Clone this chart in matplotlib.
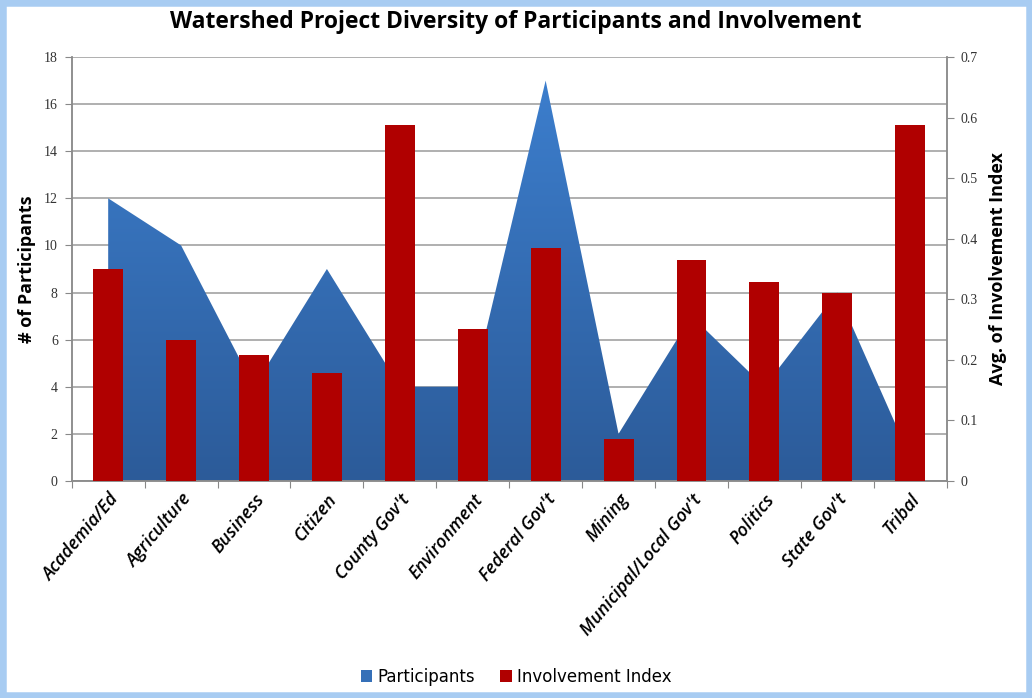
import numpy as np
import matplotlib
matplotlib.use("Agg")
import matplotlib.pyplot as plt
from matplotlib.patches import Rectangle, Patch

categories = ["Academia/Ed", "Agriculture", "Business", "Citizen", "County Gov't",
              "Environment", "Federal Gov't", "Mining", "Municipal/Local Gov't",
              "Politics", "State Gov't", "Tribal"]
participants = [12, 10, 4, 9, 4, 4, 17, 2, 7, 4, 8, 1]
involvement = [0.35, 0.233, 0.208, 0.179, 0.587, 0.251, 0.384, 0.07, 0.365, 0.328, 0.311, 0.587]
left_ticks = list(range(0, 19, 2))
right_ticks = [0, 0.1, 0.2, 0.3, 0.4, 0.5, 0.6, 0.7]

BAR_RED = "#b00000"
GRID = "#9a9a9a"
TICK_FONT = ["Liberation Serif", "DejaVu Serif"]
LABEL_FONT = ["Open Sans", "DejaVu Sans"]

fig = plt.figure(figsize=(10.32, 6.98), dpi=100)
fig.patches.append(Rectangle((0, 0), 1, 1, transform=fig.transFigure, fill=False,
                             edgecolor="#a8ccf2", linewidth=9, zorder=10))

ax = fig.add_axes([0.0695, 0.311, 0.8478, 0.6073])
ax2 = ax.twinx()

x = np.arange(len(categories))

# area with vertical gradient
ax.set_xlim(-0.5, len(categories) - 0.5)
ax.set_ylim(0, 18)
poly = ax.fill_between(x, 0, participants, facecolor="none", edgecolor="none", zorder=2)
grad = np.linspace(0, 1, 256).reshape(-1, 1)
cmap = matplotlib.colors.LinearSegmentedColormap.from_list("blu", ["#2c5b99", "#3d80d0"])
im = ax.imshow(grad, extent=[-0.5, len(categories) - 0.5, 0, 18], origin="lower",
               cmap=cmap, aspect="auto", zorder=2)
path = poly.get_paths()[0]
im.set_clip_path(path, transform=ax.transData)

ax.set_yticks(left_ticks)
ax.yaxis.grid(True, color=GRID, linewidth=1.1, zorder=0)
ax.set_axisbelow(True)

# bars on secondary axis
ax2.bar(x, involvement, width=0.41, color=BAR_RED, zorder=3)
ax2.set_ylim(0, 0.7)
ax2.set_yticks(right_ticks)
ax2.set_yticklabels(["0" if v == 0 else f"{v:g}" for v in right_ticks])

# x ticks: marks between categories, labels at centres
ax.set_xticks(np.arange(-0.5, len(categories), 1.0))
ax.set_xticklabels([])
ax.set_xticks(x, minor=True)
ax.set_xticklabels(categories, minor=True, rotation=50, ha="right", va="top",
                   rotation_mode="anchor", fontsize=13, fontstyle="italic",
                   fontweight="semibold", family=LABEL_FONT)
ax.tick_params(axis="x", which="minor", length=0, pad=7)
ax.tick_params(axis="x", which="major", length=5, color="#888888", direction="out")

for a in (ax, ax2):
    for s in a.spines.values():
        s.set_color("#8c8c8c")
        s.set_linewidth(1.1)
    a.spines["top"].set_visible(False)
ax.tick_params(axis="y", length=5, color="#888888", labelsize=10, pad=5)
ax2.tick_params(axis="y", length=5, color="#888888", labelsize=10, pad=5)
for lab in ax.get_yticklabels() + ax2.get_yticklabels():
    lab.set_family(TICK_FONT)
    lab.set_color("#333333")

ax.set_ylabel("# of Participants", fontsize=13, fontweight="bold", family=LABEL_FONT, labelpad=6)
ax2.set_ylabel("Avg. of Involvement Index", fontsize=13, fontweight="bold", family=LABEL_FONT, labelpad=8)

fig.text(0.5, 0.968, "Watershed Project Diversity of Participants and Involvement",
         ha="center", va="center", fontsize=16.5, fontweight="bold", family=LABEL_FONT)

handles = [Patch(facecolor="#3570b8", edgecolor="none"), Patch(facecolor=BAR_RED, edgecolor="none")]
fig.legend(handles, ["Participants", "Involvement Index"], loc="center", bbox_to_anchor=(0.5, 0.03),
           ncol=2, frameon=False, handlelength=0.7, handleheight=0.7, handletextpad=0.3,
           columnspacing=1.5, prop={"family": ["Liberation Sans Narrow", "DejaVu Sans"], "size": 12})

fig.savefig("out.png", dpi=100)
